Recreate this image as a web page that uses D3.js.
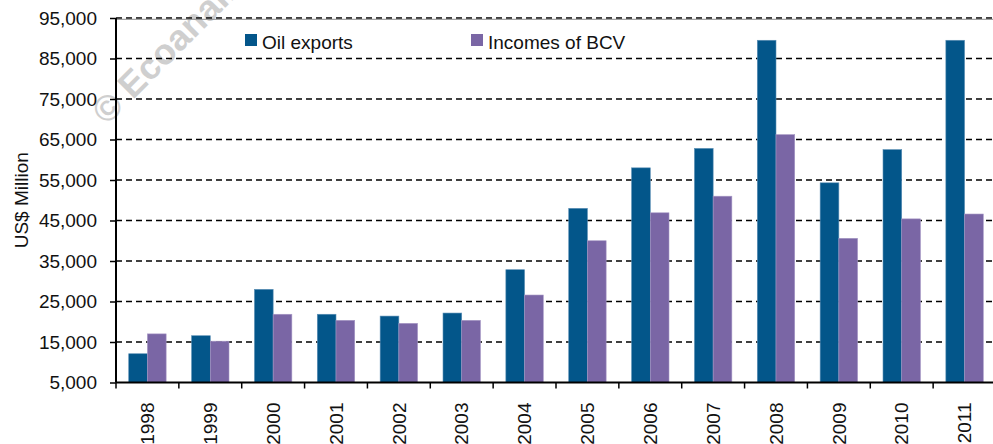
<!DOCTYPE html>
<html>
<head>
<meta charset="utf-8">
<script src="https://cdn.jsdelivr.net/npm/d3@7"></script>
<style>
  body { margin: 0; background: #fff; }
  svg text { font-family: "Liberation Sans", Arial, sans-serif; fill: #111; }
</style>
</head>
<body>
<div id="chart"></div>
<script>
// data
const years = ["1998", "1999", "2000", "2001", "2002", "2003", "2004",
               "2005", "2006", "2007", "2008", "2009", "2010", "2011"];
const oilExports = [12100, 16550, 28000, 21850, 21400, 22150, 32850,
                    48000, 58000, 62800, 89500, 54300, 62500, 89500];
const incomesBCV = [17000, 15200, 21850, 20350, 19600, 20350, 26600,
                    40000, 46900, 51000, 66200, 40600, 45400, 46600];
const seriesNames = ["Oil exports", "Incomes of BCV"];
const yTicks = [5000, 15000, 25000, 35000, 45000, 55000, 65000, 75000, 85000, 95000];

const width = 993, height = 444;
const margin = { top: 18, left: 116, bottom: 382.5, right: 996 };
const colors = ["#03568a", "#7a66a5"];
const fontSize = 19;

const svg = d3.select("#chart").append("svg")
    .attr("width", width)
    .attr("height", height);

svg.append("rect").attr("width", width).attr("height", height).attr("fill", "#fff");

const x = d3.scaleBand()
    .domain(years)
    .range([margin.left, margin.right])
    .padding(0);

const xs = d3.scaleBand()
    .domain(seriesNames)
    .range([0, x.bandwidth()])
    .paddingInner(0)
    .paddingOuter(0.68);

const y = d3.scaleLinear()
    .domain([5000, 95000])
    .range([margin.bottom, margin.top]);

// watermark
svg.append("text")
    .attr("transform", "translate(107,126) rotate(-45)")
    .attr("font-size", 36)
    .attr("font-weight", "bold")
    .style("fill", "#cfcfcf")
    .text("© Ecoanalítica");

// grid lines
svg.append("g")
    .selectAll("line")
    .data(yTicks.filter(d => d > 5000))
    .join("line")
    .attr("x1", margin.left)
    .attr("x2", width)
    .attr("y1", d => y(d))
    .attr("y2", d => y(d))
    .attr("stroke", "#000")
    .attr("stroke-width", 1.3)
    .attr("stroke-dasharray", "6,4");

// thin plot border on top
svg.append("line")
    .attr("x1", margin.left).attr("x2", width)
    .attr("y1", y(95000) + 1.3).attr("y2", y(95000) + 1.3)
    .attr("stroke", "#8a8a8a").attr("stroke-width", 1);

// bars
const table = years.map((yr, i) => ({ year: yr, values: [oilExports[i], incomesBCV[i]] }));

svg.append("g")
    .selectAll("g")
    .data(table)
    .join("g")
    .attr("transform", d => `translate(${x(d.year)},0)`)
    .selectAll("rect")
    .data(d => d.values.map((v, k) => ({ name: seriesNames[k], value: v, k: k })))
    .join("rect")
    .attr("x", d => xs(d.name))
    .attr("width", xs.bandwidth())
    .attr("y", d => y(d.value))
    .attr("height", d => y(5000) - y(d.value))
    .attr("fill", d => colors[d.k])
    .attr("stroke", d => d.k === 0 ? "#5b8fb5" : "#a596c4")
    .attr("stroke-width", 0.6);

// y axis
const yAxis = svg.append("g")
    .attr("transform", `translate(${margin.left},0)`)
    .call(d3.axisLeft(y).tickValues(yTicks).tickFormat(d3.format(",")).tickSize(6).tickPadding(13));
yAxis.select(".domain").remove();
yAxis.selectAll(".tick line").attr("stroke", "#000").attr("stroke-width", 1.5);
yAxis.selectAll(".tick text").attr("font-size", fontSize).style("font-family", "Liberation Sans, Arial, sans-serif");

svg.append("line")
    .attr("x1", margin.left).attr("x2", margin.left)
    .attr("y1", y(95000)).attr("y2", y(5000))
    .attr("stroke", "#000").attr("stroke-width", 2);

// x axis
const xAxis = svg.append("g")
    .attr("transform", `translate(0,${y(5000)})`)
    .call(d3.axisBottom(x).tickSize(0));
xAxis.select(".domain").remove();
xAxis.selectAll(".tick text")
    .attr("font-size", fontSize)
    .attr("transform", "rotate(-90)")
    .attr("text-anchor", "end")
    .attr("x", -20)
    .attr("y", 0)
    .attr("dy", "0.35em");

svg.append("line")
    .attr("x1", margin.left).attr("x2", width)
    .attr("y1", y(5000)).attr("y2", y(5000))
    .attr("stroke", "#000").attr("stroke-width", 2);

svg.append("g")
    .selectAll("line")
    .data(years)
    .join("line")
    .attr("x1", d => x(d))
    .attr("x2", d => x(d))
    .attr("y1", y(5000))
    .attr("y2", y(5000) + 6)
    .attr("stroke", "#000")
    .attr("stroke-width", 1.5);

// y label
svg.append("text")
    .attr("transform", `translate(28,${(y(5000) + y(95000)) / 2}) rotate(-90)`)
    .attr("text-anchor", "middle")
    .attr("font-size", fontSize)
    .text("US$ Million");

// legend
const legendX = [245, 471];
const legend = svg.append("g")
    .selectAll("g")
    .data(seriesNames)
    .join("g")
    .attr("transform", (d, i) => `translate(${legendX[i]},34)`);
legend.append("rect")
    .attr("width", 12).attr("height", 12)
    .attr("fill", (d, i) => colors[i]);
legend.append("text")
    .attr("x", 17).attr("y", 14.5)
    .attr("font-size", fontSize)
    .text(d => d);
</script>
</body>
</html>
